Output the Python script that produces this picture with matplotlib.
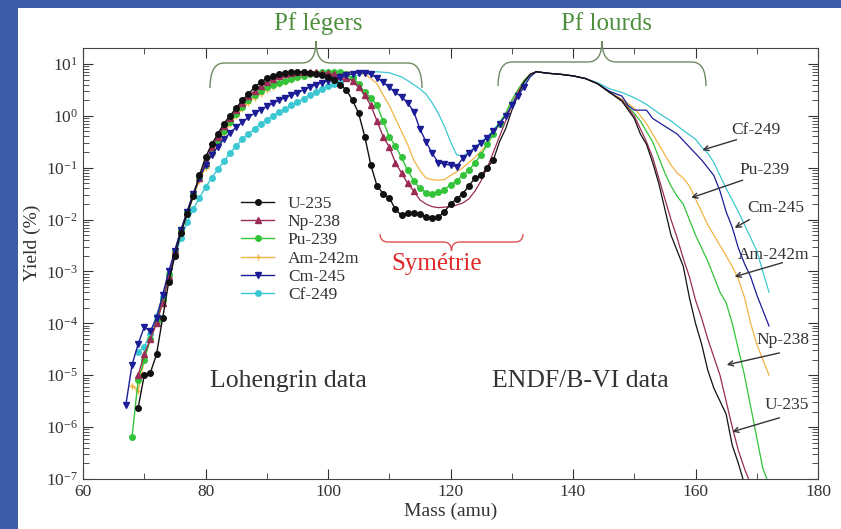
import numpy as np
import matplotlib.pyplot as plt
from matplotlib.path import Path
from matplotlib.patches import PathPatch, Rectangle
from matplotlib.ticker import LogLocator, MultipleLocator

plt.rcParams['font.family'] = 'serif'
plt.rcParams['font.serif'] = ['Liberation Serif', 'DejaVu Serif']
plt.rcParams['mathtext.fontset'] = 'stix'

# ---- data : log10 of the yield (%) ----
# Lohengrin data (light peak, with markers), one point per amu from the start mass
u235_lo_start = 69
u235_lo = [-5.63, -5.0, -4.95, -4.6, -3.9, -3.2, -2.7, -2.25, -1.9, -1.55,
           -1.15, -0.8, -0.55, -0.35, -0.15, 0.0, 0.15, 0.3, 0.42, 0.55,
           0.65, 0.72, 0.77, 0.8, 0.83, 0.84, 0.85, 0.84, 0.82, 0.8,
           0.78, 0.75, 0.7, 0.6, 0.5, 0.3, 0.05, -0.4, -0.95, -1.35,
           -1.5, -1.58, -1.8, -1.92, -1.88, -1.88, -1.9, -1.95, -1.97, -1.95,
           -1.85, -1.7, -1.6, -1.5, -1.35, -1.2, -1.15, -1.0, -0.85]
np238_lo_start = 69
np238_lo = [-5.0, -4.6, -4.3, -4.0, -3.6, -3.1, -2.6, -2.2, -1.85, -1.5,
            -1.2, -0.9, -0.6, -0.4, -0.2, -0.05, 0.12, 0.25, 0.38, 0.48,
            0.57, 0.65, 0.71, 0.76, 0.8, 0.82, 0.84, 0.85, 0.85, 0.84,
            0.83, 0.82, 0.8, 0.77, 0.73, 0.68, 0.55, 0.4, 0.2, -0.1,
            -0.4, -0.6, -0.9, -1.1, -1.3, -1.45]
pu239_lo_start = 68
pu239_lo = [-6.2, -5.1, -4.7, -4.3, -3.95, -3.55, -3.05, -2.6, -2.2, -1.85,
            -1.5, -1.2, -0.95, -0.7, -0.48, -0.3, -0.12, 0.03, 0.17, 0.3,
            0.4, 0.48, 0.55, 0.6, 0.64, 0.68, 0.71, 0.74, 0.77, 0.8,
            0.82, 0.84, 0.85, 0.85, 0.84, 0.8, 0.73, 0.62, 0.45, 0.35,
            0.2, -0.1, -0.4, -0.58, -0.8, -1.05, -1.25, -1.4, -1.48, -1.5,
            -1.47, -1.42, -1.33, -1.25, -1.15, -1.05, -0.9, -0.75, -0.55, -0.35,
            -0.15]
am242m_lo_start = 68
am242m_lo = [-5.2, -5.3, -4.7, -4.3, -4.0, -3.6, -3.1, -2.65, -2.25, -1.9,
             -1.55, -1.25, -1.0, -0.75, -0.52, -0.33, -0.16, 0.0, 0.13, 0.25,
             0.35, 0.43, 0.5, 0.56, 0.61, 0.66, 0.7, 0.73, 0.76, 0.79,
             0.81, 0.83, 0.84, 0.85]
cm245_lo_start = 67
cm245_lo = [-5.57, -4.8, -4.4, -4.07, -4.15, -3.9, -3.45, -3.0, -2.6, -2.2,
            -1.85, -1.5, -1.2, -0.95, -0.75, -0.6, -0.45, -0.33, -0.22, -0.12,
            -0.03, 0.05, 0.12, 0.18, 0.24, 0.3, 0.35, 0.4, 0.44, 0.5,
            0.55, 0.6, 0.64, 0.67, 0.7, 0.74, 0.78, 0.81, 0.83, 0.83,
            0.8, 0.73, 0.65, 0.55, 0.45, 0.37, 0.25, 0.08, -0.25, -0.5,
            -0.72, -0.9, -0.93, -0.95, -0.98, -0.82, -0.72, -0.62, -0.52, -0.42,
            -0.3, -0.15, 0.0, 0.2, 0.38, 0.56]
cf249_lo_start = 69
cf249_lo = [-4.55, -4.45, -4.2, -3.85, -3.5, -3.1, -2.7, -2.35, -2.05, -1.8,
            -1.58, -1.38, -1.2, -1.03, -0.88, -0.72, -0.58, -0.45, -0.35, -0.25,
            -0.16, -0.08, 0.0, 0.07, 0.13, 0.2, 0.27, 0.33, 0.4, 0.46,
            0.52, 0.57, 0.62, 0.66]

# ENDF/B-VI data (thin lines): mass, log10 yield
u235_hi_mass = [127, 128, 129, 130, 131, 132, 133, 134, 136, 138, 140, 142, 144, 146,
                148, 150, 151, 152, 153, 154, 155, 156, 157, 158, 159, 160, 161,
                162, 163, 164, 165, 166, 167, 168]
u235_hi = [-0.85, -0.5, -0.25, 0.1, 0.4, 0.65, 0.8, 0.85, 0.82, 0.8, 0.77, 0.72,
           0.62, 0.45, 0.28, -0.05, -0.35, -0.55, -0.9, -1.3, -1.8, -2.3, -2.6,
           -2.9, -3.5, -4.0, -4.4, -4.9, -5.25, -5.5, -5.75, -6.35, -6.7, -7.1]
np238_hi_mass = [114, 115, 116, 117, 118, 119, 120, 121, 122, 123, 124, 125, 126,
                 127, 128, 129, 130, 131, 132, 133, 134, 136, 138, 140, 142, 144,
                 146, 148, 150, 151, 152, 153, 154, 155, 156, 157, 158, 159, 160,
                 161, 162, 163, 164, 165, 166, 167, 168, 169]
np238_hi = [-1.45, -1.62, -1.7, -1.75, -1.77, -1.76, -1.75, -1.72, -1.68, -1.6,
            -1.45, -1.25, -1.0, -0.7, -0.4, -0.1, 0.2, 0.45, 0.65, 0.8, 0.85,
            0.82, 0.8, 0.77, 0.72, 0.62, 0.45, 0.3, 0.0, -0.25, -0.5, -0.8,
            -1.2, -1.6, -2.0, -2.35, -2.75, -3.1, -3.55, -3.9, -4.3, -4.65,
            -5.0, -5.5, -6.0, -6.45, -6.8, -7.1]
pu239_hi_mass = [128, 129, 130, 131, 132, 133, 134, 136, 138, 140, 142, 144, 146,
                 148, 150, 151, 152, 153, 154, 155, 156, 157, 158, 159, 160, 161,
                 162, 163, 164, 165, 166, 167, 168, 169, 170, 171, 172]
pu239_hi = [-0.15, 0.05, 0.3, 0.5, 0.68, 0.8, 0.85, 0.82, 0.8, 0.77, 0.72, 0.62,
            0.45, 0.3, 0.05, -0.1, -0.3, -0.5, -0.8, -1.1, -1.35, -1.55, -1.7,
            -2.0, -2.3, -2.55, -2.8, -3.1, -3.4, -3.6, -4.0, -4.5, -5.0, -5.6,
            -6.2, -6.8, -7.1]
am242m_hi_mass = [101, 103, 105, 106, 107, 108, 109, 110, 111, 112, 113, 114, 115,
                  116, 117, 118, 119, 120, 121, 122, 123, 124, 125, 126, 127, 128,
                  129, 130, 131, 132, 133, 134, 136, 138, 140, 142, 144, 146, 148,
                  150, 152, 153, 154, 155, 156, 157, 158, 159, 160, 161, 162, 163,
                  164, 165, 166, 167, 168, 169, 170, 171, 172]
am242m_hi = [0.85, 0.85, 0.83, 0.8, 0.72, 0.62, 0.4, 0.2, -0.05, -0.3, -0.55,
             -0.85, -1.05, -1.2, -1.23, -1.24, -1.23, -1.15, -1.08, -1.0, -0.9,
             -0.8, -0.68, -0.55, -0.35, -0.15, 0.05, 0.3, 0.5, 0.68, 0.8, 0.85,
             0.82, 0.8, 0.77, 0.72, 0.62, 0.45, 0.32, 0.15, -0.15, -0.35, -0.55,
             -0.75, -0.95, -1.1, -1.2, -1.35, -1.6, -1.85, -2.1, -2.3, -2.5, -2.7,
             -2.9, -3.15, -3.5, -4.0, -4.4, -4.7, -5.0]
cm245_hi_mass = [132, 133, 134, 136, 138, 140, 142, 144, 146, 148, 149, 150, 152,
                 153, 155, 157, 159, 161, 162, 163, 164, 165, 166, 167, 168, 169,
                 170, 171, 172]
cm245_hi = [0.56, 0.75, 0.85, 0.82, 0.8, 0.77, 0.72, 0.62, 0.47, 0.38, 0.2, 0.11,
            0.11, -0.05, -0.2, -0.35, -0.6, -0.85, -1.0, -1.15, -1.45, -1.85,
            -2.15, -2.55, -2.85, -3.1, -3.45, -3.75, -4.05]
cf249_hi_mass = [102, 104, 106, 108, 110, 112, 113, 114, 115, 116, 117, 118, 119,
                 120, 121, 122, 123, 124, 125, 126, 127, 128, 129, 130, 131, 132,
                 133, 134, 136, 138, 140, 142, 144, 146, 148, 150, 152, 154, 156,
                 158, 160, 161, 162, 163, 164, 165, 166, 167, 168, 169, 170, 171, 172]
cf249_hi = [0.66, 0.75, 0.82, 0.85, 0.83, 0.75, 0.68, 0.6, 0.52, 0.42, 0.25, 0.05,
            -0.2, -0.5, -0.75, -0.78, -0.7, -0.6, -0.5, -0.4, -0.28, -0.12, 0.05,
            0.25, 0.45, 0.62, 0.78, 0.85, 0.82, 0.8, 0.77, 0.72, 0.64, 0.52, 0.45,
            0.35, 0.22, 0.05, -0.1, -0.28, -0.45, -0.6, -0.72, -0.9, -1.15, -1.4,
            -1.62, -1.85, -2.1, -2.35, -2.6, -3.0, -3.4]

names = ['U-235', 'Np-238', 'Pu-239', 'Am-242m', 'Cm-245', 'Cf-249']
colors = ['#111111', '#9a2c55', '#33c43a', '#f2b345', '#1c1c96', '#3cc8d2']
markers = ['o', '^', 'o', '+', 'v', 'o']
lo_sets = [(u235_lo_start, u235_lo), (np238_lo_start, np238_lo), (pu239_lo_start, pu239_lo),
           (am242m_lo_start, am242m_lo), (cm245_lo_start, cm245_lo), (cf249_lo_start, cf249_lo)]
hi_sets = [(u235_hi_mass, u235_hi), (np238_hi_mass, np238_hi), (pu239_hi_mass, pu239_hi),
           (am242m_hi_mass, am242m_hi), (cm245_hi_mass, cm245_hi), (cf249_hi_mass, cf249_hi)]
zorders = [7, 5, 4, 3, 6, 2]

fig = plt.figure(figsize=(8.41, 5.29), dpi=100)
ax = fig.add_axes([83 / 841, 1 - 479 / 529, 735 / 841, 431 / 529])

for name, c, m, (start, lo), (hm, hi), z in zip(names, colors, markers, lo_sets, hi_sets, zorders):
    mass = np.arange(start, start + len(lo))
    ax.plot(hm, np.power(10.0, hi), color=c, lw=0.9, zorder=z - 1)
    ax.plot(mass, np.power(10.0, lo), color=c, lw=1.0, marker=m, ms=4,
            mew=1.0, label=name, zorder=z)

ax.set_yscale('log')
ax.set_xlim(60, 180)
ax.set_ylim(1e-7, 20.3)
ax.xaxis.set_major_locator(MultipleLocator(20))
ax.xaxis.set_minor_locator(MultipleLocator(10))
ax.yaxis.set_major_locator(LogLocator(base=10, numticks=20))
ax.yaxis.set_minor_locator(LogLocator(base=10, subs=np.arange(2, 10), numticks=20))
ax.tick_params(which='both', direction='in', top=True, right=True, labelsize=12.5,
               colors='#333333')
ax.tick_params(which='major', length=7)
ax.tick_params(which='minor', length=4)
for s in ax.spines.values():
    s.set_color('#444444')

ax.set_xlabel('Mass (amu)', fontsize=14, color='#333333', labelpad=2)
ax.set_ylabel('Yield (%)', fontsize=14, color='#333333')
ax.yaxis.set_label_coords(-0.057, 0.548)

leg = ax.legend(loc='upper left', bbox_to_anchor=(0.215, 0.657), frameon=False,
                fontsize=12.5, labelspacing=0.12, handlelength=1.9, handletextpad=0.8,
                borderpad=0, borderaxespad=0)
for t in leg.get_texts():
    t.set_color('#333333')

# curve labels with arrows (right side)
labels = [('Cf-249', 165.9, -0.27, 166.7, -0.46, 161.1, -0.66),
          ('Pu-239', 167.2, -1.04, 167.7, -1.24, 159.3, -1.58),
          ('Cm-245', 168.5, -1.77, 168.8, -2.0, 166.4, -2.16),
          ('Am-242m', 166.9, -2.68, 174.2, -2.83, 166.4, -3.1),
          ('Np-238', 170.0, -4.32, 173.7, -4.57, 165.1, -4.8),
          ('U-235', 171.3, -5.57, 173.7, -5.82, 166.0, -6.09)]
for txt, tx, ty, ax0, ay0, ax1, ay1 in labels:
    ax.text(tx, 10 ** ty, txt, fontsize=12.5, ha='left', va='center', color='#333333',
            zorder=10, clip_on=False)
    ax.annotate('', xy=(ax1, 10 ** ay1), xytext=(ax0, 10 ** ay0),
                arrowprops=dict(arrowstyle='->', color='#333333', lw=1.0,
                                mutation_scale=9, shrinkA=0, shrinkB=0), zorder=10)

# overlay in pixel coordinates for frame, braces and headings
ov = fig.add_axes([0, 0, 1, 1], zorder=20)
ov.set_xlim(0, 841)
ov.set_ylim(529, 0)
ov.axis('off')
ov.patch.set_alpha(0)

blue = '#3e5ba8'
ov.add_patch(Rectangle((0, 0), 18, 529, color=blue, lw=0))
ov.add_patch(Rectangle((0, 0), 841, 8, color=blue, lw=0))


def brace(x0, x1, y_end, y_mid, y_tip, color, lw=1.0, r=14):
    xc = (x0 + x1) / 2
    verts = [(x0, y_end), (x0, y_mid), (x0 + r, y_mid),
             (xc - r, y_mid), (xc, y_mid), (xc, y_tip),
             (xc, y_mid), (xc + r, y_mid),
             (x1 - r, y_mid), (x1, y_mid), (x1, y_end)]
    codes = [Path.MOVETO, Path.CURVE3, Path.CURVE3,
             Path.LINETO, Path.CURVE3, Path.CURVE3,
             Path.CURVE3, Path.CURVE3,
             Path.LINETO, Path.CURVE3, Path.CURVE3]
    ov.add_patch(PathPatch(Path(verts, codes), fill=False, edgecolor=color, lw=lw))


brace(210, 422, 88, 63, 41, '#6f8a63')
brace(498, 706, 86, 62, 41, '#6f8a63')
brace(380, 523, 234, 242, 251, '#e05050', lw=1.0, r=8)

ov.text(318, 24, 'Pf légers', fontsize=18, color='#4e8f3e', ha='center', va='center')
ov.text(607, 24, 'Pf lourds', fontsize=18, color='#4e8f3e', ha='center', va='center')
ov.text(437, 264, 'Symétrie', fontsize=18, color='#e02828', ha='center', va='center')
ov.text(288, 381, 'Lohengrin data', fontsize=18.5, color='#333333', ha='center', va='center')
ov.text(580, 381, 'ENDF/B-VI data', fontsize=18.5, color='#333333', ha='center', va='center')

fig.savefig('out.png', dpi=100)
